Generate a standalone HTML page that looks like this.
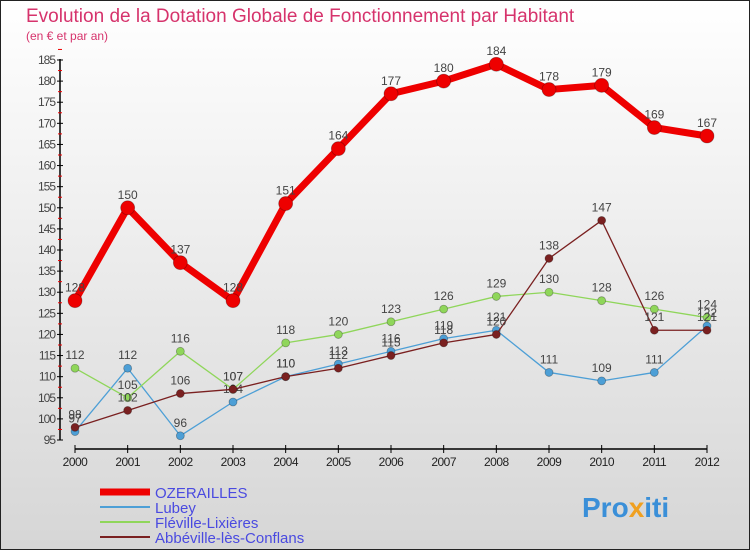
<!DOCTYPE html>
<html><head><meta charset="utf-8"><style>
body{margin:0;width:750px;height:550px;overflow:hidden;font-family:"Liberation Sans",sans-serif}
svg text{font-family:"Liberation Sans",sans-serif}
</style></head><body>
<svg id="c" width="750" height="550" xmlns="http://www.w3.org/2000/svg">
<defs><linearGradient id="bg" x1="0" y1="0" x2="0" y2="1"><stop offset="0" stop-color="#ffffff"/><stop offset="1" stop-color="#d6d6d6"/></linearGradient></defs>
<rect x="0.5" y="0.5" width="749" height="549" fill="url(#bg)" stroke="#222"/>
<text x="26" y="22" font-size="19" fill="#d6336c">Evolution de la Dotation Globale de Fonctionnement par Habitant</text>
<text x="26" y="40" font-size="12" fill="#d6336c">(en € et par an)</text>
<g id="axes"></g><g id="series"></g><g id="legend"></g>
<text x="582" y="517" font-size="28" font-weight="bold" fill="#3a8fd8">Pro<tspan fill="#f0a020">x</tspan>iti</text>
</svg>
<script>
const years=[2000,2001,2002,2003,2004,2005,2006,2007,2008,2009,2010,2011,2012];
const ozerailles=[128,150,137,128,151,164,177,180,184,178,179,169,167];
const lubey=[97,112,96,104,110,113,116,119,121,111,109,111,122];
const fleville=[112,105,116,107,118,120,123,126,129,130,128,126,124];
const abbeville=[98,102,106,107,110,112,115,118,120,138,147,121,121];
const yTicks=[95,100,105,110,115,120,125,130,135,140,145,150,155,160,165,170,175,180,185];
const NS="http://www.w3.org/2000/svg";
const x=i=>75+i*(707-75)/(years.length-1);
const y=v=>440-(v-95)*(380/90);
function mk(t,a,p){const e=document.createElementNS(NS,t);for(const k in a)e.setAttribute(k,a[k]);p.appendChild(e);return e;}
const ax=document.getElementById('axes');
let yl=mk('line',{x1:60,y1:y(185)-1,x2:60,y2:y(95),stroke:'#000','stroke-width':1.5},ax);


yTicks.forEach(v=>{
 mk('line',{x1:57,x2:63,y1:y(v),y2:y(v),stroke:'#000'},ax);
 mk('line',{x1:58,x2:62,y1:y(v+2.5),y2:y(v+2.5),stroke:'#e00'},ax);
 const t=mk('text',{x:55,y:y(v)+4,'text-anchor':'end','font-size':12,fill:'#444','letter-spacing':'-1'},ax);t.textContent=v;
 
 
});
let xl=mk('line',{x1:75,x2:707,y1:449,y2:449,stroke:'#000','stroke-width':1.5},ax);


years.forEach((yr,i)=>{
 mk('line',{x1:x(i),x2:x(i),y1:445,y2:453,stroke:'#000'},ax);
 const t=mk('text',{x:x(i),y:466,'text-anchor':'middle','font-size':12,fill:'#222','letter-spacing':'-0.5'},ax);t.textContent=yr;
 
 
});
const series=[
 {n:'lubey',d:lubey,c:'#4d9fd6',w:1.3,r:4},
 {n:'fleville',d:fleville,c:'#8fd65a',w:1.3,r:4},
 {n:'abbeville',d:abbeville,c:'#7a2020',w:1.3,r:4},
 {n:'ozerailles',d:ozerailles,c:'#ee0000',w:7,r:7}];
const sg=document.getElementById('series');
series.forEach(s=>{
 const g=mk('g',{},sg);
 
 
 const pts=s.d.map((v,i)=>x(i)+','+y(v)).join(' ');
 mk('polyline',{points:pts,fill:'none',stroke:s.c,'stroke-width':s.w,'stroke-linejoin':'round'},g);
 s.d.forEach((v,i)=>{
  const c=mk('circle',{cx:x(i),cy:y(v),r:s.r,fill:s.c,stroke:'rgba(0,0,0,0.3)','stroke-width':0.8},g);
  
  
  const t=mk('text',{x:x(i),y:y(v)-9,'text-anchor':'middle','font-size':12,fill:'#444'},g);t.textContent=v;
  
  
 });
});
const lg=document.getElementById('legend');
const leg=[['OZERAILLES','#ee0000',7],['Lubey','#4d9fd6',2],['Fléville-Lixières','#8fd65a',2],['Abbéville-lès-Conflans','#7a2020',2]];
leg.forEach((l,i)=>{
 const yy=492+i*15;
 mk('line',{x1:100,x2:150,y1:yy,y2:yy,stroke:l[1],'stroke-width':l[2]},lg);
 const t=mk('text',{x:155,y:yy+6,'font-size':15,fill:'#4a4ae0'},lg);t.textContent=l[0];
 
 
});
</script>
</body></html>
